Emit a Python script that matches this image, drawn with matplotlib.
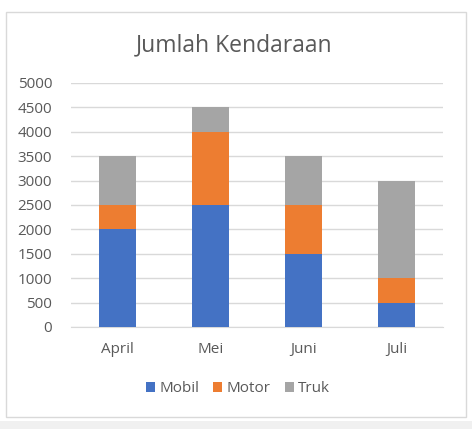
import matplotlib.pyplot as plt
from matplotlib.patches import Rectangle

plt.rcParams['font.family'] = ['Open Sans', 'DejaVu Sans']

bulan = ['April', 'Mei', 'Juni', 'Juli']
mobil = [2000, 2500, 1500, 500]
motor = [500, 1500, 1000, 500]
truk = [1000, 500, 1000, 2000]

warna = {'Mobil': '#4472C4', 'Motor': '#ED7D31', 'Truk': '#A5A5A5'}
teks = '#595959'

fig = plt.figure(figsize=(4.72, 4.29), dpi=100)
fig.patch.set_facecolor('white')

# bingkai chart dan strip abu-abu di bawah
fig.patches.append(Rectangle((6/472, 1-417/429), 460/472, 405/429, transform=fig.transFigure,
                             fill=False, edgecolor='#d9d9d9', lw=1))
fig.patches.append(Rectangle((0, 0), 1, 1-421/429, transform=fig.transFigure,
                             facecolor='#f0f0f0', edgecolor='none'))

ax = fig.add_axes([71/472, 1-327/429, 372/472, 244/429])
x = range(len(bulan))
lebar = 0.4
b1 = [m + t for m, t in zip(mobil, motor)]
ax.bar(x, mobil, lebar, color=warna['Mobil'], label='Mobil', zorder=3)
ax.bar(x, motor, lebar, bottom=mobil, color=warna['Motor'], label='Motor', zorder=3)
ax.bar(x, truk, lebar, bottom=b1, color=warna['Truk'], label='Truk', zorder=3)

ax.set_xlim(-0.5, 3.5)
ax.set_ylim(0, 5000)
ax.set_yticks(range(0, 5001, 500))
ax.grid(axis='y', color='#d9d9d9', lw=1, zorder=0)
for s in ['top', 'right', 'left']:
    ax.spines[s].set_visible(False)
ax.spines['bottom'].set_color('#d9d9d9')
ax.tick_params(length=0, labelcolor=teks, labelsize=11)
ax.tick_params(axis='y', pad=13.5)
ax.tick_params(axis='x', pad=11)
ax.set_xticks(list(x))
ax.set_xticklabels(bulan)

fig.text(234/472, 1-45/429, 'Jumlah Kendaraan', ha='center', va='center', fontsize=16.5, color=teks)

fig.legend(loc='center', bbox_to_anchor=(238/472, 1-389/429), ncol=3, frameon=False,
           fontsize=11, labelcolor=teks, handlelength=0.6, handleheight=0.6,
           handletextpad=0.3, columnspacing=0.9)

fig.savefig('out.png', dpi=100)
